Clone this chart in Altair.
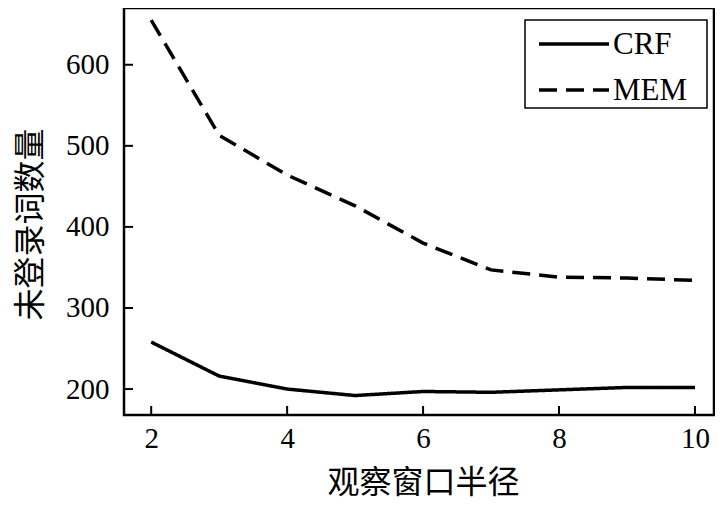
import altair as alt
import pandas as pd

radius = [2, 3, 4, 5, 6, 7, 8, 9, 10]
crf = [258, 216, 200, 192, 197, 196, 199, 202, 202]
mem = [655, 513, 464, 426, 380, 347, 338, 337, 334]
series_names = ["CRF", "MEM"]
series_dash = [[1, 0], [18, 9]]
x_ticks = [2, 4, 6, 8, 10]
y_ticks = [200, 300, 400, 500, 600]

df = pd.DataFrame({
    "radius": radius * 2,
    "count": crf + mem,
    "series": ["CRF"] * len(radius) + ["MEM"] * len(radius),
})

W, H = 590, 407
xscale = alt.Scale(domain=[1.6, 10.28], nice=False, zero=False)
yscale = alt.Scale(domain=[168, 670], nice=False, zero=False)

lines = alt.Chart(df).mark_line(strokeWidth=3.5, color="black", strokeCap="butt").encode(
    x=alt.X("radius:Q", scale=xscale,
            axis=alt.Axis(values=x_ticks, format="d", title="观察窗口半径", titleX=299, titleY=67,
                          titleBaseline="middle", labelPadding=9)),
    y=alt.Y("count:Q", scale=yscale,
            axis=alt.Axis(values=y_ticks, format="d", title="未登录词数量", titleX=-94, titleY=216,
                          titleAngle=-90, titleBaseline="middle", titleAlign="center",
                          labelPadding=15)),
    strokeDash=alt.StrokeDash(
        "series:N",
        scale=alt.Scale(domain=series_names, range=series_dash),
        legend=None,
    ),
)

xt = alt.Chart(pd.DataFrame({"t": x_ticks})).mark_rule(color="black", strokeWidth=2).encode(
    x=alt.X("t:Q", scale=xscale), y=alt.value(H), y2=alt.value(H - 9)
)
yt = alt.Chart(pd.DataFrame({"t": y_ticks})).mark_rule(color="black", strokeWidth=2).encode(
    y=alt.Y("t:Q", scale=yscale), x=alt.value(0), x2=alt.value(9)
)

# manual legend
box = alt.Chart(pd.DataFrame({"a": [0]})).mark_rect(
    fill="white", stroke="black", strokeWidth=1.5
).encode(x=alt.value(401), x2=alt.value(583), y=alt.value(12), y2=alt.value(100))

legend_layers = [box]
row_y = [36, 82]
for name, dash, ry in zip(series_names, series_dash, row_y):
    legend_layers.append(
        alt.Chart(pd.DataFrame({"a": [0]})).mark_rule(
            color="black", strokeWidth=3.5, strokeDash=dash, strokeCap="butt"
        ).encode(x=alt.value(415), x2=alt.value(485), y=alt.value(ry))
    )
    legend_layers.append(
        alt.Chart(pd.DataFrame({"a": [0]})).mark_text(
            text=name, font="Liberation Serif", fontSize=31, color="black",
            align="left", baseline="middle"
        ).encode(x=alt.value(489), y=alt.value(ry + 1))
    )

chart = alt.layer(lines, xt, yt, *legend_layers).properties(
    width=W, height=H,
    autosize=alt.AutoSizeParams(type="none"),
    padding={"left": 116, "top": 0, "right": 1, "bottom": 85},
).configure(background="white").configure_view(stroke="black", strokeWidth=2.5).configure_axis(
    domain=False, ticks=False, grid=False,
    labelFont="Liberation Serif", labelFontSize=29, labelColor="black",
    titleFont="Noto Sans CJK SC", titleFontSize=32, titleColor="black", titleFontWeight="normal",
)

chart.save("out.html", embed_options={"renderer": "svg", "actions": False})
